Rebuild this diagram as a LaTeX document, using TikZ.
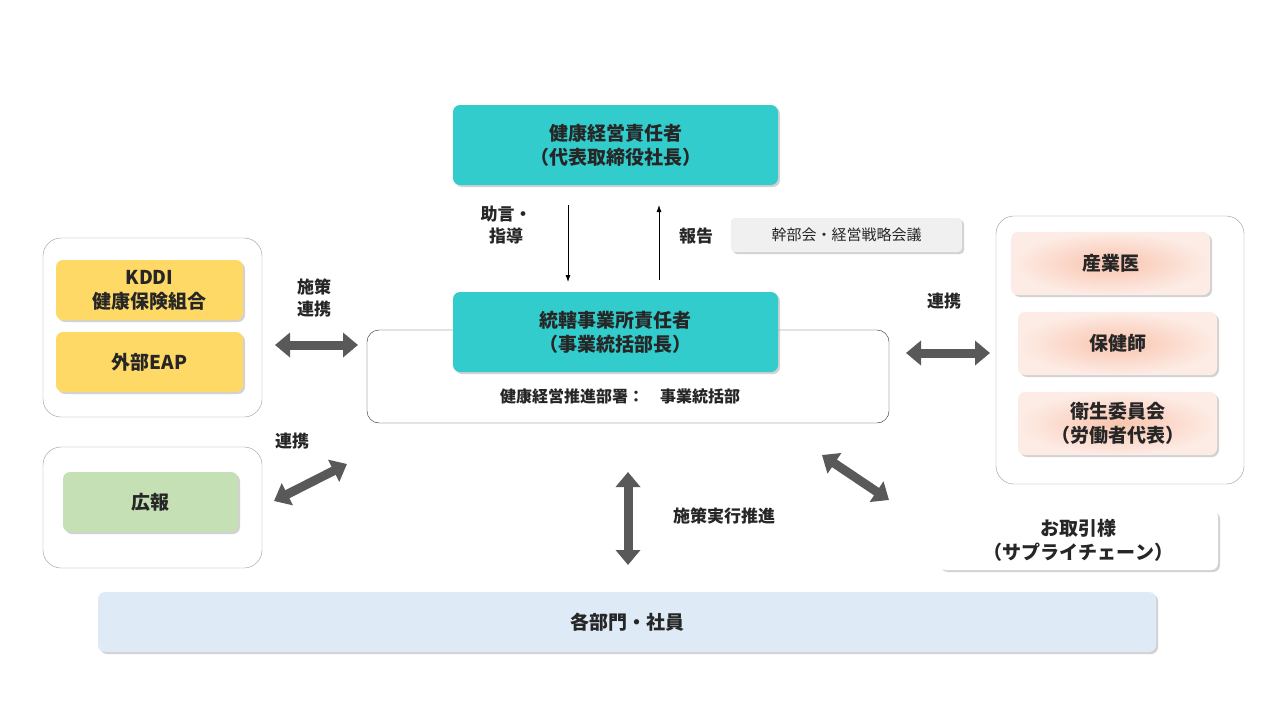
\documentclass[tikz,border=0pt]{standalone}
\usepackage{fontspec}
\setmainfont{Noto Sans CJK JP}
\usetikzlibrary{shadows,arrows.meta}
\definecolor{teal1}{HTML}{33CCCC}
\definecolor{yel}{HTML}{FFD966}
\definecolor{grn}{HTML}{C5E0B4}
\definecolor{blu}{HTML}{DEEBF7}
\definecolor{dk}{HTML}{262626}
\definecolor{ag}{HTML}{595959}
\definecolor{pk1}{HTML}{F9C4AF}
\definecolor{pk2}{HTML}{FDECE5}
\begin{document}
\begin{tikzpicture}[x=1pt,y=-1pt,
 txt/.style={font=\fontsize{19}{24}\selectfont\bfseries,text=dk,align=center},
 box/.style={txt,rounded corners=7,drop shadow={shadow xshift=2pt,shadow yshift=-2pt,fill=black!35}},
 pink/.style={box,shade,inner color=pk1,outer color=pk2,minimum width=199,minimum height=63},
 grp/.style={draw=black!40,rounded corners=18,fill=white},
 dbl/.style={draw=ag,line width=9pt,{Triangle[length=15pt,width=24pt]}-{Triangle[length=15pt,width=24pt]}},
 lbl/.style={font=\fontsize{17}{22}\selectfont\bfseries,text=dk,align=center}]
\useasboundingbox (0,0) rectangle (1280,720);
% top
\node[box,fill=teal1,minimum width=325,minimum height=80] (top) at (615.5,145) {健康経営責任者\\（代表取締役社長）};
\node[grp,draw=dk,rounded corners=12,minimum width=522,minimum height=93] (big) at (628,376.5) {};
\node[box,fill=teal1,minimum width=325,minimum height=80] (mid) at (615.5,332) {統轄事業所責任者\\（事業統括部長）};
\node[lbl,font=\fontsize{16}{20}\selectfont\bfseries] (dept) at (620,396) {健康経営推進部署：　事業統括部};
\coordinate (d1) at (568,205); \coordinate (d2) at (568,282);
\coordinate (u1) at (659,280); \coordinate (u2) at (659,205);
\draw[-{Latex[length=7pt,width=5pt]},thick] (d1) -- (d2);
\draw[-{Latex[length=7pt,width=5pt]},thick] (u1) -- (u2);
\node[lbl] (adv) at (506,225) {助言・\\指導};
\node[lbl] (rep) at (696,236) {報告};
\node[box,font=\fontsize{15}{18}\selectfont,fill=black!6,minimum width=231,minimum height=34,rounded corners=4] (mtg) at (846.5,235) {幹部会・経営戦略会議};
% left group
\node[grp,minimum width=219,minimum height=179] (lg) at (152.5,327.5) {};
\node[box,fill=yel,minimum width=187,minimum height=60] (kddi) at (149.5,290) {KDDI\\健康保険組合};
\node[box,fill=yel,minimum width=187,minimum height=60] (eap) at (149.5,362) {外部EAP};
\coordinate (a1) at (275,345); \coordinate (a2) at (358,345);
\draw[dbl] (a1) -- (a2);
\node[lbl] (l1) at (314,298) {施策\\連携};
% left lower
\node[grp,minimum width=219,minimum height=121] (lg2) at (152.5,507.5) {};
\node[box,fill=grn,minimum width=175,minimum height=60] (pr) at (150.5,502) {広報};
\coordinate (b1) at (274,501); \coordinate (b2) at (347,464);
\draw[dbl] (b1) -- (b2);
\node[lbl] (l2) at (292,441) {連携};
% right group
\node[grp,minimum width=248,minimum height=268] (rg) at (1120,350) {};
\node[pink] (doc) at (1110.5,263.5) {産業医};
\node[pink] (nurse) at (1117.5,343.5) {保健師};
\node[pink] (com) at (1117.5,423.5) {衛生委員会\\（労働者代表）};
\coordinate (c1) at (906,353); \coordinate (c2) at (990,353);
\draw[dbl] (c1) -- (c2);
\node[lbl] (l3) at (944,301) {連携};
\node[box,fill=white,minimum width=279,minimum height=60] (sup) at (1078.5,540) {お取引様\\（サプライチェーン）};
\coordinate (e1) at (822,455); \coordinate (e2) at (889,500);
\draw[dbl] (e1) -- (e2);
\coordinate (f1) at (628,472); \coordinate (f2) at (628,565);
\draw[dbl] (f1) -- (f2);
\node[lbl] (l4) at (724,516) {施策実行推進};
\node[box,fill=blu,minimum width=1058,minimum height=60] (all) at (627,622) {各部門・社員};
\end{tikzpicture}
\end{document}
